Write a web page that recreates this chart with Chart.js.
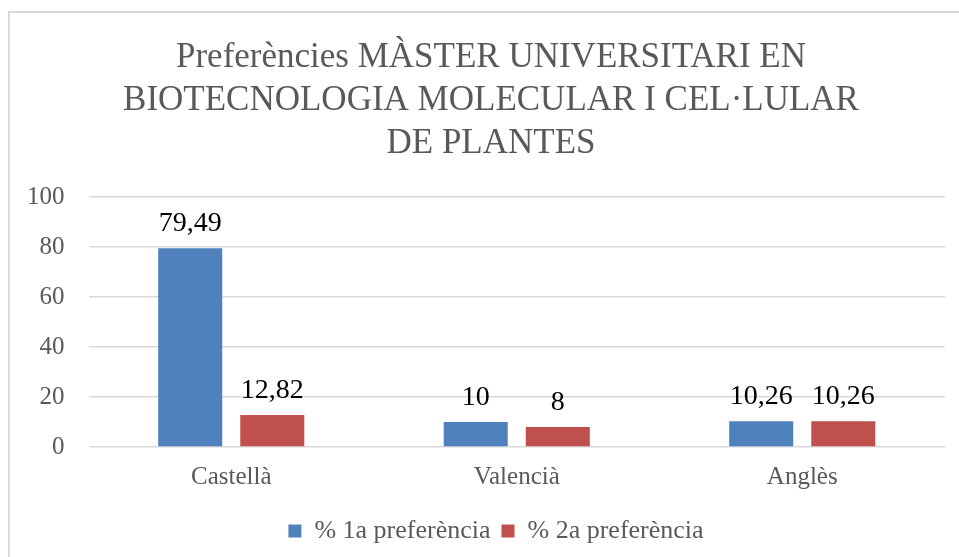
<!DOCTYPE html>
<html>
<head>
<meta charset="utf-8">
<script src="https://cdn.jsdelivr.net/npm/chart.js@4/dist/chart.umd.min.js"></script>
<style>
    html, body { margin: 0; padding: 0; background: #fff; overflow: hidden; }
    #wrap { position: relative; width: 959px; height: 557px; }
    #frame {
        position: absolute; left: 8px; top: 11px; width: 970px; height: 570px;
        border: 2px solid #d9d9d9; pointer-events: none;
    }
</style>
</head>
<body>
<div id="wrap">
    <canvas id="chart" width="959" height="557"></canvas>
    <div id="frame"></div>
</div>
<script>
const categories = ['Castellà', 'Valencià', 'Anglès'];
const seriesNames = ['% 1a preferència', '% 2a preferència'];
const firstPref = [79.49, 10, 10.26];
const secondPref = [12.82, 8, 10.26];
const yTicks = [0, 20, 40, 60, 80, 100];

const FONT = "'Liberation Serif', 'DejaVu Serif', serif";
const GREY = '#595959';

// etiquetes de valor sobre cada barra, amb coma decimal
const valueLabels = {
    id: 'valueLabels',
    afterDatasetsDraw(chart) {
        const ctx = chart.ctx;
        ctx.save();
        ctx.font = `28px ${FONT}`;
        ctx.fillStyle = '#000';
        ctx.textAlign = 'center';
        ctx.textBaseline = 'alphabetic';
        chart.data.datasets.forEach((ds, i) => {
            chart.getDatasetMeta(i).data.forEach((bar, j) => {
                const text = String(ds.data[j]).replace('.', ',');
                ctx.fillText(text, bar.x, bar.y - 17);
            });
        });
        ctx.restore();
    }
};

// el títol i la llegenda de l'original estan centrats sobre tot el marc, que surt per la dreta
const shiftBlocks = {
    id: 'shiftBlocks',
    afterLayout(chart) {
        if (chart.titleBlock) chart.titleBlock.left += 34;
        if (chart.legend) chart.legend.left += 44;
    }
};

const ctx = document.getElementById('chart').getContext('2d');
new Chart(ctx, {
    type: 'bar',
    data: {
        labels: categories,
        datasets: [
            { label: seriesNames[0], data: firstPref, backgroundColor: '#4f81bd' },
            { label: seriesNames[1], data: secondPref, backgroundColor: '#c0504d' }
        ]
    },
    options: {
        responsive: false,
        animation: false,
        categoryPercentage: 0.575,
        barPercentage: 0.78,
        layout: { padding: { left: 3, right: 14, top: 0, bottom: 3 } },
        plugins: {
            title: {
                display: true,
                text: ['Preferències MÀSTER UNIVERSITARI EN', 'BIOTECNOLOGIA MOLECULAR I CEL·LULAR', 'DE PLANTES'],
                color: GREY,
                font: { family: FONT, size: 35, weight: 'normal', lineHeight: 43 / 35 },
                padding: { top: 36, bottom: 32 }
            },
            legend: {
                position: 'bottom',
                labels: {
                    color: GREY,
                    font: { family: FONT, size: 26 },
                    boxWidth: 13,
                    boxHeight: 13,
                    padding: 11
                }
            },
            tooltip: { enabled: false }
        },
        scales: {
            x: {
                grid: { display: false, drawTicks: false },
                border: { display: false },
                ticks: { color: GREY, font: { family: FONT, size: 25 }, padding: 15 }
            },
            y: {
                min: 0,
                max: 100,
                afterBuildTicks: (axis) => { axis.ticks = yTicks.map(v => ({ value: v })); },
                grid: { color: '#d9d9d9', lineWidth: 1.5, drawTicks: false },
                border: { display: false },
                ticks: { color: GREY, font: { family: FONT, size: 25 }, padding: 24 }
            }
        }
    },
    plugins: [valueLabels, shiftBlocks]
});
</script>
</body>
</html>
